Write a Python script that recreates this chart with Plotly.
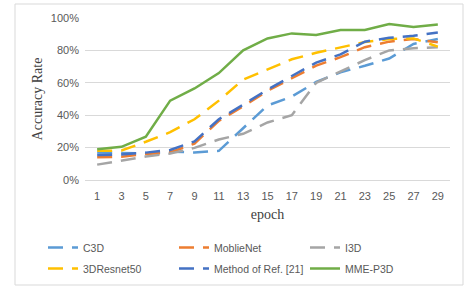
import plotly.graph_objects as go

epochs = ["1", "3", "5", "7", "9", "11", "13", "15", "17", "19", "21", "23", "25", "27", "29"]
c3d = [17, 16.8, 16.3, 17.5, 17, 18, 32, 46, 51.5, 60.5, 66.5, 70.5, 75, 84, 87]
mobilenet = [14, 14.4, 16, 17, 22.5, 36.5, 45.5, 55, 62.8, 70.6, 75.8, 82, 85.4, 87, 85]
i3d = [9.5, 12, 14.5, 16.3, 19.8, 25, 28.5, 35.5, 40, 60, 67, 74, 80, 81.3, 82]
resnet3d50 = [18, 18.2, 23.6, 29.5, 37.5, 49, 62, 68.5, 74.5, 78.5, 82, 85.2, 87, 87.4, 82.3]
ref21 = [15.4, 15.8, 16.9, 18.5, 23.8, 37.5, 46.5, 55.8, 64.2, 72.5, 77.5, 85.4, 87.8, 89, 91]
mme_p3d = [19, 20.5, 26.7, 49, 56.5, 66, 80, 87.4, 90.5, 89.5, 92.6, 92.6, 96.3, 94.5, 96]

series = [
    ("C3D", c3d, "#5B9BD5", "15px,9px", "legend"),
    ("MoblieNet", mobilenet, "#ED7D31", "15px,9px", "legend"),
    ("I3D", i3d, "#A5A5A5", "15px,9px", "legend"),
    ("3DResnet50", resnet3d50, "#FFC000", "15px,9px", "legend2"),
    ("Method of Ref. [21]", ref21, "#4472C4", "15px,9px", "legend2"),
    ("MME-P3D", mme_p3d, "#70AD47", "solid", "legend2"),
]

fig = go.Figure()
for name, vals, color, dash, leg in series:
    fig.add_trace(go.Scatter(
        x=epochs, y=[v / 100 for v in vals], name=name, mode="lines",
        line=dict(color=color, width=2.5, dash=dash), legend=leg,
    ))

W, H = 468, 289
L, R, T, B = 85, 18, 18, 109
pw, ph = W - L - R, H - T - B

leg_common = dict(
    orientation="h", xanchor="left", yanchor="top",
    entrywidth=86, entrywidthmode="pixels",
    font=dict(family="Liberation Sans", size=10.5, color="#595959"),
    traceorder="normal", itemclick=False, bgcolor="rgba(0,0,0,0)",
)

fig.update_layout(
    width=W, height=H,
    margin=dict(l=L, r=R, t=T, b=B, autoexpand=False),
    plot_bgcolor="white", paper_bgcolor="white",
    font=dict(family="Liberation Sans", size=11, color="#595959"),
    showlegend=True,
    legend=dict(x=(43 - L) / pw, y=(H - B - 233) / ph, **leg_common),
    legend2=dict(x=(43 - L) / pw, y=(H - B - 254) / ph, **leg_common),
    xaxis=dict(
        type="category", range=[-0.5, 14.5], showgrid=False, showline=True, linecolor="#d9d9d9",
        ticks="", tickfont=dict(size=11, color="#595959"), automargin=False, ticklabelstandoff=6,
        title=dict(text="epoch", font=dict(family="Liberation Serif", size=14, color="#404040"), standoff=7),
    ),
    yaxis=dict(
        range=[0, 1], dtick=0.2, tickformat=".0%", showgrid=True, gridcolor="#d9d9d9",
        zeroline=False, ticks="", tickfont=dict(size=11, color="#595959"), automargin=False, ticklabelstandoff=5,
        title=dict(text="Accuracy Rate", font=dict(family="Liberation Serif", size=14, color="#404040"), standoff=4),
    ),
)

fig.add_shape(
    type="rect", xref="paper", yref="paper",
    x0=(15 - L) / pw, x1=(463 - L) / pw, y0=(H - B - 285) / ph, y1=(H - B - 4) / ph,
    line=dict(color="#d9d9d9", width=1), fillcolor="rgba(0,0,0,0)", layer="below",
)

fig.write_html(
    "out.html",
    config={"displayModeBar": False},
    post_script="document.body.style.margin='0';document.body.style.overflow='hidden';",
)
